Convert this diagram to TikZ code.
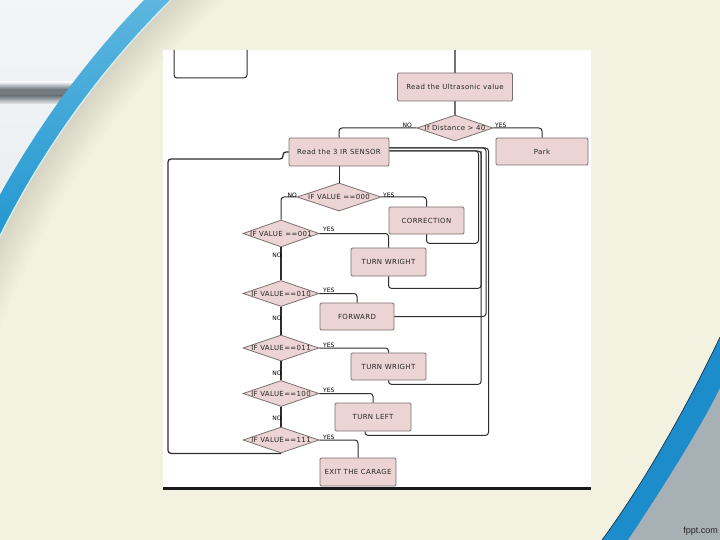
\documentclass[tikz,border=0pt]{standalone}
\usepackage{fontspec}
\setmainfont{DejaVu Sans}
\newfontfamily\fcfont[LetterSpace=5]{DejaVu Sans}
\newfontfamily\brandfont{Liberation Sans}
\usetikzlibrary{shapes.geometric,calc}
\definecolor{cream}{HTML}{F3F1E0}
\definecolor{tlA}{HTML}{F3F6F9}
\definecolor{tlB}{HTML}{E7EAEB}
\definecolor{stripe}{HTML}{737B81}
\definecolor{blueA}{HTML}{5DB6DF}
\definecolor{blueB}{HTML}{1590CD}
\definecolor{blueC}{HTML}{1C8CCB}
\definecolor{edgeline}{HTML}{1B3550}
\definecolor{brgray}{HTML}{A6B0B5}
\definecolor{shadowdark}{HTML}{D6D4C2}
\definecolor{hilite}{HTML}{D8EEF2}
\definecolor{boxpink}{HTML}{ECD4D4}
\definecolor{boxline}{HTML}{7A7070}
\definecolor{linec}{HTML}{2E2E2E}
\definecolor{txtc}{HTML}{262626}
\tikzset{
  fbox/.style={rectangle, draw=boxline, fill=boxpink, line width=0.8pt,
    rounded corners=1.2pt, inner sep=0pt, text=txtc,
    font=\fcfont\fontsize{7}{8}\selectfont},
  fdia/.style={diamond, draw=boxline, fill=boxpink, line width=0.8pt, inner sep=0pt},
  dtext/.style={text=txtc, inner sep=0pt, font=\fcfont\fontsize{7}{8}\selectfont},
  conn/.style={draw=linec, line width=1pt, rounded corners=3pt},
  trunk/.style={draw=linec, line width=1.6pt},
  yn/.style={inner sep=0.5pt, text=black, font=\fontsize{6}{7}\selectfont}
}
\begin{document}
\begin{tikzpicture}[x=1pt,y=-1pt]
\useasboundingbox (0,0) rectangle (720,540);
\clip (0,0) rectangle (720,540);
% ---------- slide background ----------
\fill[cream] (0,0) rectangle (720,540);
\shade[top color=tlA, bottom color=tlB] (0,0) rectangle (220,330);
\shade[top color=tlA, bottom color=stripe] (0,82) rectangle (220,89);
\fill[stripe] (0,89) rectangle (220,96);
\shade[top color=stripe, bottom color=tlB] (0,96) rectangle (220,104);
\begin{scope}
  \clip (796,632) circle (908);
  \shade[top color=blueA, bottom color=blueB] (0,0) rectangle (220,300);
\end{scope}
\fill[hilite] (796,632) circle (889.5);
\foreach \i in {0,...,18}{
  \pgfmathtruncatemacro\p{100-\i*100/18}
  \fill[shadowdark!\p!cream] (796,632) circle ({888-2*\i});
}
\fill[cream] (796,632) circle (851);
% bottom-right swoosh
\fill[blueC] (720,337) .. controls (695,390) and (650,475) .. (602,540) -- (720,540) -- cycle;
\draw[edgeline, line width=0.7pt] (720,337) .. controls (695,390) and (650,475) .. (602,540);
\fill[brgray] (720,388) .. controls (705,420) and (665,485) .. (628,540) -- (720,540) -- cycle;
\node[anchor=east, inner sep=0pt, text=black!85, font=\brandfont\fontsize{9}{10}\selectfont] (brand) at (718,531) {fppt.com};
% ---------- screenshot ----------
\fill[white] (163,50) rectangle (591,487);
\draw[black!90, line width=3pt] (163,488.5) -- (591,488.5);
% partial box at top left
\draw[conn] (174,50) -- (174,78) -- (247,78) -- (247,50);
% ---------- nodes ----------
\node[fbox, minimum width=115pt, minimum height=28pt] (u) at (455,87) {Read the Ultrasonic value};
\node[fdia, minimum width=76pt, minimum height=26pt, label={[dtext]center:If Distance > 40}] (dist) at (455,128) {};
\node[fbox, minimum width=92pt, minimum height=27pt] (park) at (542,151.5) {Park};
\node[fbox, minimum width=100pt, minimum height=28pt] (ir) at (339,152) {Read the 3 IR SENSOR};
\node[fdia, minimum width=84pt, minimum height=28pt, label={[dtext]center:IF VALUE ==000}] (d0) at (339,197) {};
\node[fbox, minimum width=75pt, minimum height=27pt] (corr) at (426.5,220.5) {CORRECTION};
\node[fdia, minimum width=76pt, minimum height=27pt, label={[dtext]center:IF VALUE ==001}] (d1) at (281,233.5) {};
\node[fbox, minimum width=75pt, minimum height=28pt] (tw1) at (388.5,262) {TURN WRIGHT};
\node[fdia, minimum width=76pt, minimum height=26pt, label={[dtext]center:IF VALUE==010}] (d2) at (281,293.5) {};
\node[fbox, minimum width=74pt, minimum height=27pt] (fwd) at (357,316.5) {FORWARD};
\node[fdia, minimum width=76pt, minimum height=26pt, label={[dtext]center:IF VALUE==011}] (d3) at (281,348) {};
\node[fbox, minimum width=75pt, minimum height=27pt] (tw2) at (388.5,366.5) {TURN WRIGHT};
\node[fdia, minimum width=76pt, minimum height=26pt, label={[dtext]center:IF VALUE==100}] (d4) at (281,393.5) {};
\node[fbox, minimum width=76pt, minimum height=28pt] (tl) at (373,417) {TURN LEFT};
\node[fdia, minimum width=76pt, minimum height=26pt, label={[dtext]center:IF VALUE==111}] (d5) at (281,440) {};
\node[fbox, minimum width=76pt, minimum height=28pt] (exit) at (358,472) {EXIT THE CARAGE};
% ---------- connectors ----------
\coordinate (utop) at (455,50);
\draw[trunk, draw=black!55, line width=2.2pt] (utop) -- (u.north);
\draw[trunk, draw=black!55, line width=2.2pt] (u.south) -- (dist.north);
\draw[conn] (dist.west) -| (ir.north);
\draw[conn] (dist.east) -| (park.north);
\draw[conn] (ir.south) -- (d0.north);
\draw[conn] (d0.west) -| (d1.north);
\draw[conn] (d0.east) -| (corr.north);
\draw[conn] (d1.east) -| (tw1.north);
\draw[trunk] (d1.south) -- (d2.north);
\draw[conn] (d2.east) -| (fwd.north);
\draw[trunk] (d2.south) -- (d3.north);
\draw[conn] (d3.east) -| (tw2.north);
\draw[trunk] (d3.south) -- (d4.north);
\draw[conn] (d4.east) -| (tl.north);
\draw[trunk] (d4.south) -- (d5.north);
\draw[conn] (d5.east) -| (exit.north);
% loop back to IR sensor
\coordinate (lpt) at (168,159);
\draw[conn, line width=1.3pt] (d5.south) -| (lpt) -- ++(115,0) |- (ir.west);
% return buses
\coordinate (busA) at (478.5,151);
\coordinate (busA2) at (481,151);
\coordinate (busB) at (486,148);
\coordinate (busB2) at (488.5,148);
\draw[conn] (corr.south) -- ++(0,9) -| (busA) -- (busA -| ir.east);
\draw[conn] (tw1.south) -- ++(0,12) -| (busA2) -- (busA2 -| ir.east);
\draw[conn] (tw2.south) -- ++(0,4) -| (busA2);
\draw[conn] (fwd.east) -| (busB) -- (busB -| ir.east);
\draw[conn] ($(tl.south)+(-8,0)$) -- ++(0,4) -| (busB2) -- (busB2 -| ir.east);
% ---------- YES / NO labels ----------
\node[yn, anchor=south east] (n0) at ($(dist.west)+(-4,0)$) {NO};
\node[yn, anchor=south west] (y0) at ($(dist.east)+(1,0)$) {YES};
\node[yn, anchor=south east] (n1) at ($(d0.west)+(1,1)$) {NO};
\node[yn, anchor=south west] (y1) at ($(d0.east)+(1,1)$) {YES};
\node[yn, anchor=south west] (y2) at ($(d1.east)+(3,-1)$) {YES};
\node[yn] (n2) at ($(d1.south)+(-4,8)$) {NO};
\node[yn, anchor=south west] (y3) at ($(d2.east)+(3,0)$) {YES};
\node[yn] (n3) at ($(d2.south)+(-4,11)$) {NO};
\node[yn, anchor=south west] (y4) at ($(d3.east)+(3,0)$) {YES};
\node[yn] (n4) at ($(d3.south)+(-4,12)$) {NO};
\node[yn, anchor=south west] (y5) at ($(d4.east)+(3,0)$) {YES};
\node[yn] (n5) at ($(d4.south)+(-4,11)$) {NO};
\node[yn, anchor=south west] (y6) at ($(d5.east)+(3,0)$) {YES};
\end{tikzpicture}
\end{document}
